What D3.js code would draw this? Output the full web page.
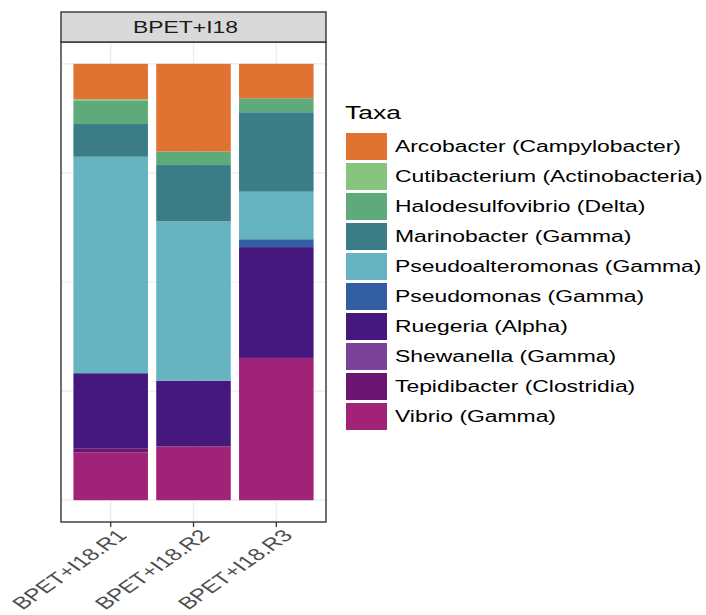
<!DOCTYPE html>
<html>
<head>
<meta charset="utf-8">
<script src="https://cdn.jsdelivr.net/npm/d3@7/dist/d3.min.js"></script>
<style>
  html, body { margin: 0; padding: 0; background: #fff; }
  svg { display: block; font-family: "Liberation Sans", Arial, Helvetica, sans-serif; }
</style>
</head>
<body>
<svg id="chart" width="706" height="615"></svg>
<script>
// Samples (x categories) and facet label
const facetLabel = "BPET+I18";
const samples = ["BPET+I18.R1", "BPET+I18.R2", "BPET+I18.R3"];

// Taxa in legend order (first = top of stack)
const taxa = [
  "Arcobacter (Campylobacter)",
  "Cutibacterium (Actinobacteria)",
  "Halodesulfovibrio (Delta)",
  "Marinobacter (Gamma)",
  "Pseudoalteromonas (Gamma)",
  "Pseudomonas (Gamma)",
  "Ruegeria (Alpha)",
  "Shewanella (Gamma)",
  "Tepidibacter (Clostridia)",
  "Vibrio (Gamma)"
];

const taxaColors = [
  "#E07232", "#88C47E", "#5EAA7A", "#3A7D86", "#66B3C2",
  "#325EA3", "#45187E", "#7B4297", "#6C1570", "#A02378"
];

// Relative abundance per sample, in taxa order
const abundR1 = [0.081, 0.004, 0.053, 0.075, 0.496, 0.000, 0.172, 0.000, 0.010, 0.109];
const abundR2 = [0.201, 0.000, 0.031, 0.129, 0.365, 0.000, 0.151, 0.000, 0.000, 0.123];
const abundR3 = [0.079, 0.000, 0.032, 0.182, 0.109, 0.018, 0.254, 0.000, 0.000, 0.326];

const yBreaks = [0, 0.25, 0.5, 0.75, 1];

// Build a row-per-sample table for d3.stack
const abundBySample = [abundR1, abundR2, abundR3];
const table = samples.map((s, i) => {
  const row = { sample: s };
  taxa.forEach((t, j) => { row[t] = abundBySample[i][j]; });
  return row;
});

const svg = d3.select("#chart");
const textStretch = 1.43; // horizontal stretch of text glyphs

const panel = { left: 61, right: 326, top: 42, bottom: 522 };
const strip = { top: 12, bottom: 42 };

const x = d3.scaleBand()
  .domain(samples)
  .range([panel.left, panel.right])
  .paddingInner(0.1)
  .paddingOuter(0.15);

const y = d3.scaleLinear()
  .domain([-0.05, 1.05])
  .range([panel.bottom, panel.top]);

const color = d3.scaleOrdinal().domain(taxa).range(taxaColors);

// Panel background
svg.append("rect")
  .attr("x", panel.left).attr("y", panel.top)
  .attr("width", panel.right - panel.left)
  .attr("height", panel.bottom - panel.top)
  .attr("fill", "#fff");

// Grid lines
const grid = svg.append("g").attr("stroke", "#EBEBEB").attr("stroke-width", 1.2);
grid.selectAll("line.h").data(yBreaks).join("line")
  .attr("x1", panel.left).attr("x2", panel.right)
  .attr("y1", d => y(d)).attr("y2", d => y(d));
grid.selectAll("line.v").data(samples).join("line")
  .attr("x1", d => x(d) + x.bandwidth() / 2).attr("x2", d => x(d) + x.bandwidth() / 2)
  .attr("y1", panel.top).attr("y2", panel.bottom);

// Stacked bars: Vibrio at the bottom, Arcobacter on top
const stack = d3.stack().keys(taxa.slice().reverse());
const series = stack(table);

svg.append("g").selectAll("g").data(series).join("g")
  .attr("fill", d => color(d.key))
  .selectAll("rect").data(d => d).join("rect")
  .attr("x", d => x(d.data.sample))
  .attr("width", x.bandwidth())
  .attr("y", d => y(d[1]))
  .attr("height", d => Math.max(0, y(d[0]) - y(d[1])));

// Panel border
svg.append("rect")
  .attr("x", panel.left).attr("y", panel.top)
  .attr("width", panel.right - panel.left)
  .attr("height", panel.bottom - panel.top)
  .attr("fill", "none").attr("stroke", "#333").attr("stroke-width", 1.4);

// Facet strip
svg.append("rect")
  .attr("x", panel.left).attr("y", strip.top)
  .attr("width", panel.right - panel.left)
  .attr("height", strip.bottom - strip.top)
  .attr("fill", "#D9D9D9").attr("stroke", "#333").attr("stroke-width", 1.4);

svg.append("text")
  .attr("transform", `translate(${(panel.left + panel.right) / 2 - 8},${(strip.top + strip.bottom) / 2}) scale(${textStretch},1)`)
  .attr("text-anchor", "middle")
  .attr("dy", "0.36em")
  .attr("font-size", 16)
  .attr("fill", "#1A1A1A")
  .text(facetLabel);

// X axis ticks and rotated labels
const xAxis = svg.append("g");
xAxis.selectAll("line").data(samples).join("line")
  .attr("x1", d => x(d) + x.bandwidth() / 2).attr("x2", d => x(d) + x.bandwidth() / 2)
  .attr("y1", panel.bottom).attr("y2", panel.bottom + 5)
  .attr("stroke", "#333").attr("stroke-width", 1.3);

xAxis.selectAll("text").data(samples).join("text")
  .attr("transform", d => `translate(${x(d) + x.bandwidth() / 2 + 5},${panel.bottom + 6}) scale(${textStretch},1) rotate(-45)`)
  .attr("text-anchor", "end")
  .attr("dy", "0.72em")
  .attr("font-size", 17)
  .attr("fill", "#4D4D4D")
  .text(d => d);

// Legend
const legend = svg.append("g");
legend.append("text")
  .attr("transform", `translate(345,119) scale(${textStretch},1)`)
  .attr("font-size", 18.5)
  .attr("fill", "#000")
  .text("Taxa");

const keyTop = 133, keyStep = 30, keyH = 27, keyX = 346, keyW = 41;
const items = legend.selectAll("g.item").data(taxa).join("g")
  .attr("class", "item")
  .attr("transform", (d, i) => `translate(0,${keyTop + i * keyStep})`);

items.append("rect")
  .attr("x", keyX).attr("y", 0)
  .attr("width", keyW).attr("height", keyH)
  .attr("fill", d => color(d));

items.append("text")
  .attr("transform", `translate(395,${keyH / 2}) scale(${textStretch},1)`)
  .attr("dy", "0.36em")
  .attr("font-size", 16)
  .attr("fill", "#000")
  .text(d => d);
</script>
</body>
</html>
